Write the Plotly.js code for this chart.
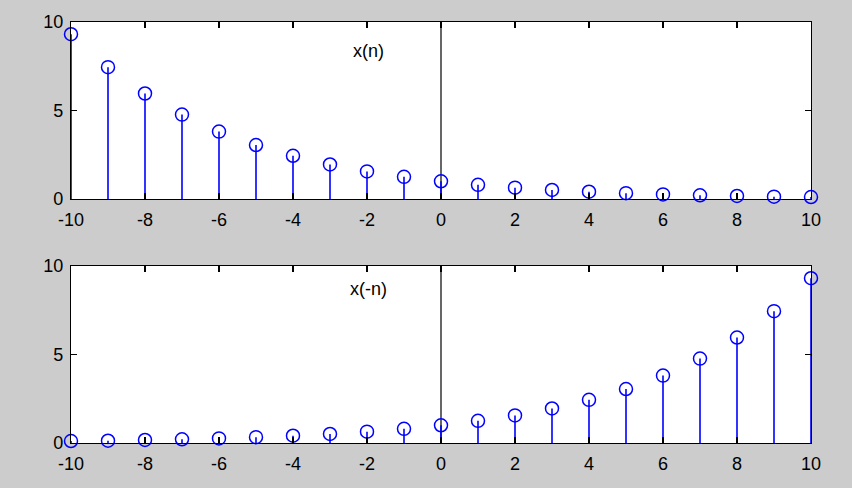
<!DOCTYPE html>
<html>
<head>
<meta charset="utf-8">
<script src="https://cdn.plot.ly/plotly-3.0.1.min.js"></script>
<style>html,body{margin:0;padding:0;background:#cccccc;}#chart{width:852px;height:488px;}</style>
</head>
<body>
<div id="chart"></div>
<script>
const n = [-10,-9,-8,-7,-6,-5,-4,-3,-2,-1,0,1,2,3,4,5,6,7,8,9,10];
const xn = [9.31,7.45,5.96,4.77,3.81,3.05,2.44,1.95,1.56,1.25,1.00,0.80,0.64,0.51,0.41,0.33,0.26,0.21,0.17,0.13,0.11];
const xminusn = [0.11,0.13,0.17,0.21,0.26,0.33,0.41,0.51,0.64,0.80,1.00,1.25,1.56,1.95,2.44,3.05,3.81,4.77,5.96,7.45,9.31];
const xTicks = [-10,-8,-6,-4,-2,0,2,4,6,8,10];
const yTicks = [0,5,10];
const titles = ['x(n)','x(-n)'];

function stem(y, ax){
  return {
    x: n, y: y, xaxis: 'x'+ax, yaxis: 'y'+ax, type:'scatter', mode:'markers',
    cliponaxis:false,
    marker:{symbol:'circle-open', size:13, color:'#0000ff', line:{width:1.5, color:'#0000ff'}},
    error_y:{type:'data', symmetric:false, array:y.map(()=>0), arrayminus:y, width:0, thickness:1.6, color:'#0000ff'},
    hoverinfo:'skip', showlegend:false
  };
}
function vline(ax){
  return {x:[0,0], y:[0,10], xaxis:'x'+ax, yaxis:'y'+ax, type:'scatter', mode:'lines',
    line:{color:'#000000', width:1.2}, hoverinfo:'skip', showlegend:false};
}
const font = {family:'Liberation Sans, Arial, sans-serif', size:18, color:'#000'};
function xax(anchor){
  return {range:[-10,10], tickvals:xTicks, ticktext:xTicks.map(String), ticks:'inside', ticklen:6, tickwidth:1.2,
    tickcolor:'#000', showline:true, linecolor:'#000', linewidth:1.2, mirror:'ticks', showgrid:false, zeroline:false,
    anchor:anchor, tickfont:font, ticklabelstandoff:4};
}
function yax(anchor, domain){
  return {range:[0,10], domain:domain, tickvals:yTicks, ticktext:yTicks.map(String), ticks:'inside', ticklen:6, tickwidth:1.2,
    tickcolor:'#000', showline:true, linecolor:'#000', linewidth:1.2, mirror:'ticks', showgrid:false, zeroline:false,
    anchor:anchor, tickfont:font, ticklabelstandoff:3};
}
const data = [vline(''), stem(xn,''), vline('2'), stem(xminusn,'2')];
const layout = {
  width:852, height:488,
  paper_bgcolor:'#cccccc', plot_bgcolor:'#ffffff',
  margin:{l:71, r:41, t:22, b:45},
  xaxis: xax('y'), yaxis: yax('x',[0.5796,1]),
  xaxis2: xax('y2'), yaxis2: yax('x2',[0,0.4204]),
  showlegend:false,
  annotations:[
    {x:-1.95, y:8.35, xref:'x', yref:'y', text:titles[0], showarrow:false, font:{family:'Liberation Sans, Arial, sans-serif', size:18, color:'#000'}},
    {x:-1.95, y:8.7, xref:'x2', yref:'y2', text:titles[1], showarrow:false, font:{family:'Liberation Sans, Arial, sans-serif', size:18, color:'#000'}}
  ]
};
Plotly.newPlot('chart', data, layout, {staticPlot:true, displayModeBar:false});
</script>
</body>
</html>
